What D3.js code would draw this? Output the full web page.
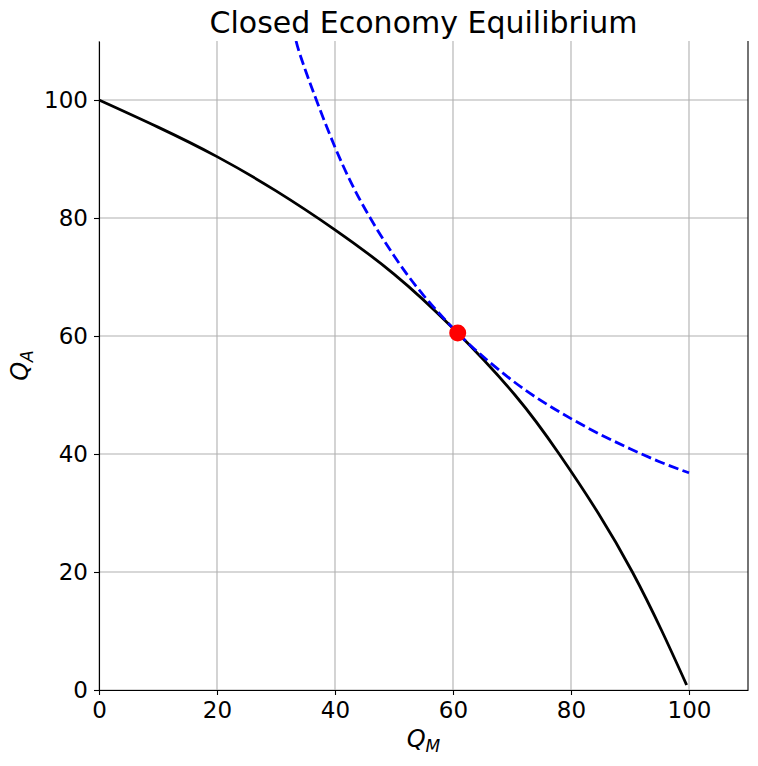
<!DOCTYPE html>
<html>
<head>
<meta charset="utf-8">
<script src="https://cdn.jsdelivr.net/npm/d3@7"></script>
<style>
  body { margin: 0; background: #fff; }
  text { font-family: "DejaVu Sans", sans-serif; }
</style>
</head>
<body>
<div id="chart"></div>
<script>
// production possibility frontier
var ppfQM = [0, 10, 20, 30, 40, 50, 60, 70.5, 78, 84.6, 90.4, 95.4, 99.6];
var ppfQA = [100, 95.4, 90.4, 84.6, 78.0, 70.5, 61.3, 50, 40, 30, 20, 10, 0.85];

// indifference curve
var icQM = [33.4, 35, 40, 45, 50, 55, 60.8, 65, 70, 75, 80, 85, 90, 95, 100];
var icQA = [110, 105, 92, 81.7, 73.6, 66.9, 60.5, 56.6, 52.5, 49.0, 46.0, 43.3, 40.9, 38.7, 36.8];

// equilibrium point
var eqQM = 60.8, eqQA = 60.5;

var xTicks = [0, 20, 40, 60, 80, 100];
var yTicks = [0, 20, 40, 60, 80, 100];

var margin = {top: 41, right: 10, bottom: 76, left: 99},
    width = 758 - margin.left - margin.right,
    height = 766 - margin.top - margin.bottom;

var svg = d3.select("#chart").append("svg")
  .attr("width", width + margin.left + margin.right)
  .attr("height", height + margin.top + margin.bottom);

var g = svg.append("g")
  .attr("transform", "translate(" + margin.left + "," + margin.top + ")");

var x = d3.scaleLinear().domain([0, 110]).range([0, width]);
var y = d3.scaleLinear().domain([0, 110]).range([height, 0]);

svg.append("defs").append("clipPath").attr("id", "clip")
  .append("rect").attr("width", width).attr("height", height);

// grid
g.append("g").selectAll("line.vx")
  .data(xTicks).enter().append("line")
  .attr("x1", function(d){ return x(d); }).attr("x2", function(d){ return x(d); })
  .attr("y1", 0).attr("y2", height)
  .attr("stroke", "#b0b0b0").attr("stroke-width", 1.1);

g.append("g").selectAll("line.hy")
  .data(yTicks).enter().append("line")
  .attr("y1", function(d){ return y(d); }).attr("y2", function(d){ return y(d); })
  .attr("x1", 0).attr("x2", width)
  .attr("stroke", "#b0b0b0").attr("stroke-width", 1.1);

var line = d3.line()
  .x(function(d){ return x(d[0]); })
  .y(function(d){ return y(d[1]); })
  .curve(d3.curveNatural);

var plot = g.append("g").attr("clip-path", "url(#clip)");

plot.append("path")
  .datum(ppfQM.map(function(d, i){ return [d, ppfQA[i]]; }))
  .attr("d", line)
  .attr("fill", "none")
  .attr("stroke", "#000")
  .attr("stroke-width", 2.8);

plot.append("path")
  .datum(icQM.map(function(d, i){ return [d, icQA[i]]; }))
  .attr("d", line)
  .attr("fill", "none")
  .attr("stroke", "#0000ff")
  .attr("stroke-width", 2.8)
  .attr("stroke-dasharray", "10.3,4.4");

g.append("circle")
  .attr("cx", x(eqQM))
  .attr("cy", y(eqQA))
  .attr("r", 8.5)
  .attr("fill", "#ff0000");

// axes
var xAxis = g.append("g")
  .attr("transform", "translate(0," + height + ")")
  .call(d3.axisBottom(x).tickValues(xTicks).tickSize(5).tickSizeOuter(0).tickPadding(7));
var yAxis = g.append("g")
  .call(d3.axisLeft(y).tickValues(yTicks).tickSize(5).tickSizeOuter(0).tickPadding(6));

[xAxis, yAxis].forEach(function(a){
  a.select(".domain").attr("stroke", "#000").attr("stroke-width", 1.1);
  a.selectAll(".tick line").attr("stroke", "#000").attr("stroke-width", 1.1);
  a.selectAll(".tick text").attr("fill", "#000")
    .style("font-size", "23px").style("font-family", "DejaVu Sans");
});

// right spine
g.append("line")
  .attr("x1", width).attr("x2", width).attr("y1", 0).attr("y2", height)
  .attr("stroke", "#000").attr("stroke-width", 1.1);

// title
svg.append("text")
  .attr("x", margin.left + width / 2)
  .attr("y", 33)
  .attr("text-anchor", "middle")
  .style("font-size", "30px")
  .text("Closed Economy Equilibrium");

// x label
var xl = svg.append("text")
  .attr("x", margin.left + width / 2)
  .attr("y", 747)
  .attr("text-anchor", "middle")
  .style("font-size", "24px");
xl.append("tspan").style("font-style", "italic").text("Q");
xl.append("tspan").style("font-style", "italic").style("font-size", "17px").attr("dy", 5).text("M");

// y label
var yl = svg.append("text")
  .attr("transform", "translate(28," + (margin.top + height / 2) + ") rotate(-90)")
  .attr("text-anchor", "middle")
  .style("font-size", "24px");
yl.append("tspan").style("font-style", "italic").text("Q");
yl.append("tspan").style("font-style", "italic").style("font-size", "17px").attr("dy", 5).text("A");
</script>
</body>
</html>
